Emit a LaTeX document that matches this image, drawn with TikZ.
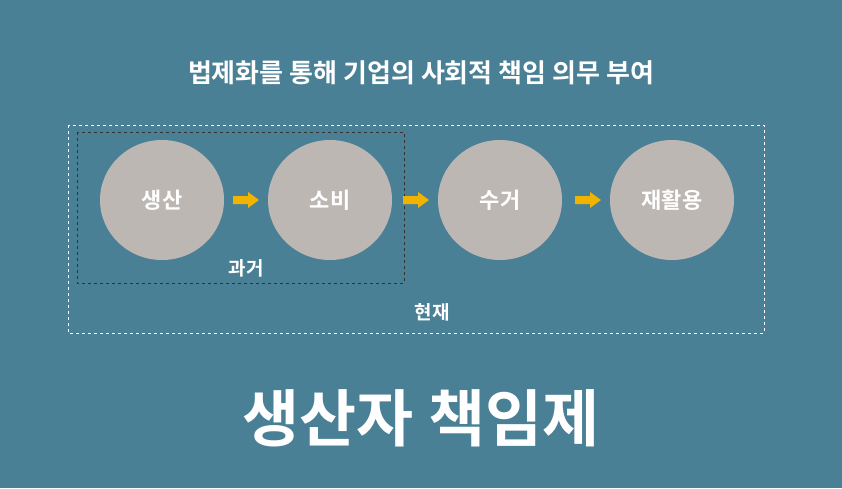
\documentclass[tikz,border=0pt]{standalone}
\usepackage{fontspec}
\setmainfont{Noto Sans CJK KR}[BoldFont={Noto Sans CJK KR Bold}]
\usetikzlibrary{shapes.geometric}
\definecolor{bg}{HTML}{4A8096}
\definecolor{circ}{HTML}{BDB7B4}
\definecolor{arr}{HTML}{F0B400}
\begin{document}
\begin{tikzpicture}[x=1pt,y=-1pt,
  stage/.style={ellipse,fill=circ,minimum width=124pt,minimum height=120pt,text=white,font=\bfseries\fontsize{22}{26}\selectfont},
  lbl/.style={text=white,font=\bfseries\fontsize{19}{22}\selectfont}]
\fill[bg] (0,0) rectangle (842,488);
\useasboundingbox (0,0) rectangle (842,488);
\draw[white,dashed,line width=0.8pt] (68,125) rectangle (764,333);
\draw[black!80,dashed,line width=0.8pt] (77,132) rectangle (404,283);
\node[stage] (a) at (162,200) {생산};
\node[stage] (b) at (330,200) {소비};
\node[stage] (c) at (500,200) {수거};
\node[stage] (d) at (672,200) {재활용};
\foreach \n/\x in {ab/246,bc/416,cd/588}{
  \coordinate (\n) at (\x,200);
  \fill[arr] ([shift={(-13,-4)}]\n) -- ([shift={(2,-4)}]\n) -- ([shift={(2,-8)}]\n) -- ([shift={(13,0)}]\n)
    -- ([shift={(2,8)}]\n) -- ([shift={(2,4)}]\n) -- ([shift={(-13,4)}]\n) -- cycle;
}
\node[lbl] (past) at (246,268) {과거};
\node[lbl] (now) at (432,312) {현재};
\node[text=white,font=\bfseries\fontsize{26}{30}\selectfont] (t) at (421,73) {법제화를 통해 기업의 사회적 책임 의무 부여};
\node[text=white,font=\bfseries\fontsize{62}{70}\selectfont] (big) at (421,418) {생산자 책임제};
\end{tikzpicture}
\end{document}
